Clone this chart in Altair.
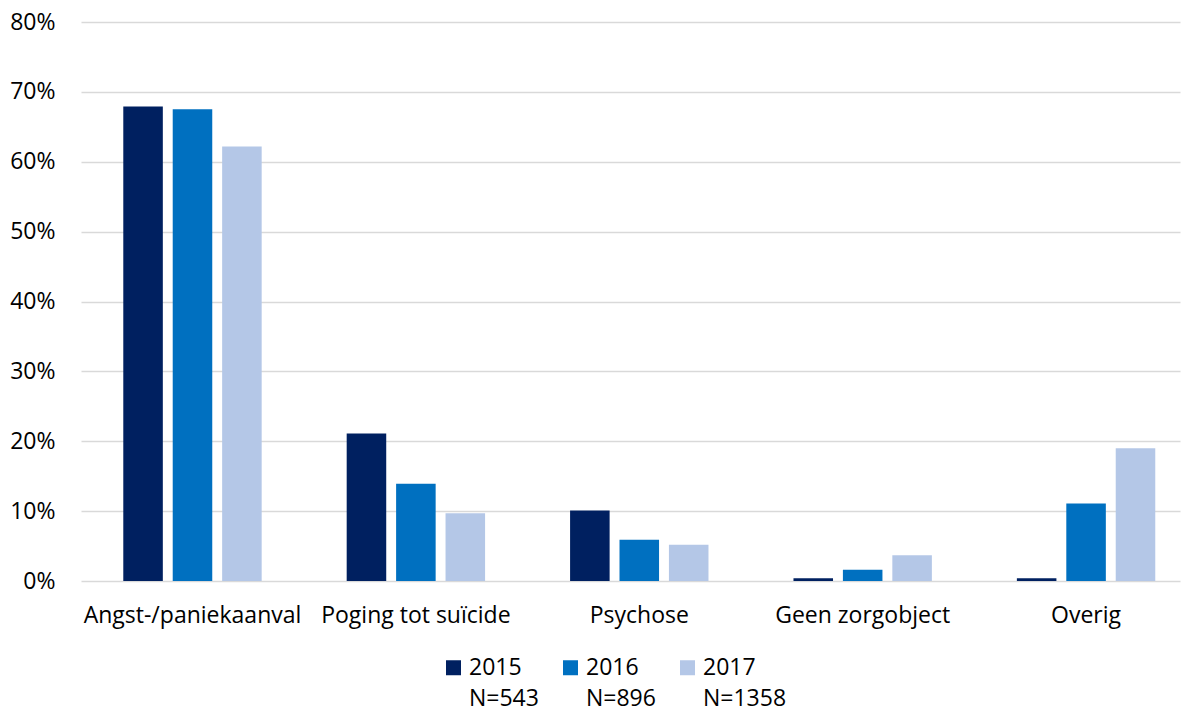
import altair as alt
import pandas as pd

categories = ["Angst-/paniekaanval", "Poging tot suïcide", "Psychose", "Geen zorgobject", "Overig"]
years = ["2015", "2016", "2017"]
n_labels = ["N=543", "N=896", "N=1358"]
v2015 = [67.9, 21.1, 10.1, 0.4, 0.4]
v2016 = [67.5, 13.9, 5.9, 1.6, 11.1]
v2017 = [62.2, 9.7, 5.2, 3.7, 19.0]
colors = ["#002060", "#0070C0", "#B4C7E7"]

rows = []
for y, n, vals in zip(years, n_labels, [v2015, v2016, v2017]):
    for c, v in zip(categories, vals):
        rows.append({"categorie": c, "jaar": y, "aantal": n, "waarde": v / 100})
df = pd.DataFrame(rows)

FONT = "Open Sans"
FS = 23

chart = alt.Chart(df).mark_bar().encode(
    x=alt.X("categorie:N", sort=categories, title=None,
            scale=alt.Scale(paddingInner=0.3805, paddingOuter=0.15, align=0.631),
            axis=alt.Axis(labelAngle=0, labelFontSize=FS, labelFont=FONT, labelColor="#000000",
                          labelPadding=23, domain=False, ticks=False, grid=False, labelLimit=300)),
    xOffset=alt.XOffset("jaar:N", sort=years,
                        scale=alt.Scale(paddingInner=0.2, paddingOuter=0)),
    y=alt.Y("waarde:Q", title=None,
            scale=alt.Scale(domain=[0, 0.8], nice=False),
            axis=alt.Axis(format=".0%", values=[i / 10 for i in range(9)],
                          labelFontSize=FS, labelFont=FONT, labelColor="#000000",
                          labelPadding=26, domain=False, ticks=False,
                          gridColor="#D9D9D9", gridWidth=1.5)),
    color=alt.Color("jaar:N", sort=years,
                    scale=alt.Scale(domain=years, range=colors),
                    legend=alt.Legend(title=None, orient="none", legendX=361, legendY=634,
                                      direction="horizontal", columns=3,
                                      symbolType="square", symbolSize=225,
                                      symbolStrokeWidth=0,
                                      labelFontSize=FS, labelFont=FONT, labelColor="#000000",
                                      labelBaseline="middle", labelOffset=4,
                                      columnPadding=37, labelLimit=200)),
    opacity=alt.Opacity("aantal:N", sort=n_labels,
                        scale=alt.Scale(domain=n_labels, range=[1, 1, 1]),
                        legend=alt.Legend(title=None, orient="none", legendX=361, legendY=665,
                                          direction="horizontal", columns=3,
                                          symbolType="square", symbolSize=225,
                                          symbolFillColor="#FFFFFF", symbolStrokeWidth=0,
                                          symbolStrokeColor="#FFFFFF",
                                          labelFontSize=FS, labelFont=FONT, labelColor="#000000",
                                          labelBaseline="middle", labelOffset=4,
                                          columnPadding=20, labelLimit=200)),
).properties(
    width=1099, height=559,
    autosize=alt.AutoSizeParams(type="none"),
    padding={"left": 73, "top": 14, "right": 4, "bottom": 126},
).configure_view(stroke=None)

chart.save("out.html", embed_options={"renderer": "svg", "actions": False})
